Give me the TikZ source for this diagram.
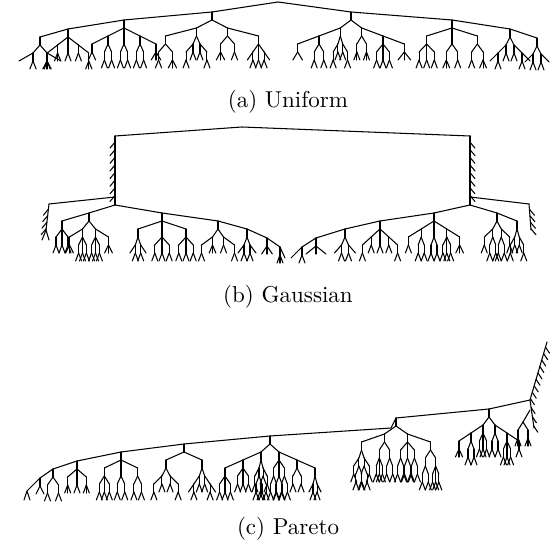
\documentclass[tikz,border=0pt]{standalone}
\usepackage{tikz}
\tikzset{br/.style={line width=0.5pt, line cap=round, line join=round},
  captxt/.style={font=\fontsize{10.95pt}{13pt}\selectfont, inner sep=0pt}}
\newcommand\Sst{8}
\newcommand\Sdy{8}
\newcommand\famB{72}
\newcommand\treefam[3]{%
  \begingroup
  \pgfmathsetmacro\fx{#1}%
  \pgfmathsetmacro\fy{#2}%
  \pgfmathsetmacro\fhw{#3}%
  \pgfmathtruncatemacro\frmax{floor((\famB-\fy)/\Sdy)}%
  \pgfmathtruncatemacro\fcap{min(6, 2*\frmax+1, floor(\fhw/4)+2)}%
  \ifnum\fcap<2 \def\fcap{2}\fi
  \pgfmathrandominteger{\fn}{2}{\fcap}%
  \pgfmathtruncatemacro\fodd{mod(\fn,2)}%
  \pgfmathsetmacro\fd{max(2*\fhw/\fn, 6/(\fn-1))}%
  \foreach \i in {1,...,\fn}{%
    \pgfmathsetmacro\fo{\i-(\fn+1)/2}%
    \pgfmathsetmacro\fr{abs(\fo)+0.5*(1-\fodd)}%
    \pgfmathsetmacro\fcx{\fx+\fo*\fd}%
    \pgfmathsetmacro\fcy{\fy+\Sdy*max(\fr,1)}%
    \ifdim\fr pt>1.01pt
      \pgfmathsetmacro\fpx{\fx+(\fo+(\fo<0 ? 1 : -1))*\fd}%
      \pgfmathsetmacro\fpy{\fy+\Sdy*max(\fr-1,1)}%
    \else
      \let\fpx\fx \let\fpy\fy
    \fi
    \draw[br] (\fpx,\fpy) -- (\fcx,\fcy);
    \pgfmathsetmacro\fchw{0.45*\fd}%
    \pgfmathtruncatemacro\fint{((\famB-\fcy-\Sst)>=\Sdy) && (\fchw>=1.2)}%
    \ifnum\fint=1
      \draw[br] (\fcx,\fcy) -- (\fcx,\fcy+\Sst);
      \treefam{\fcx}{\fcy+\Sst}{\fchw}%
    \fi
  }%
  \endgroup
}
\newcommand\cater[6]{%
  \draw[br] (#1,#2) -- (#3,#4);
  \foreach \tk in {1,...,#5}{%
    \pgfmathsetmacro\tx{#1+(#3-#1)*(\tk-0.2)/#5}%
    \pgfmathsetmacro\ty{#2+(#4-#2)*(\tk-0.2)/#5}%
    \draw[br] (\tx,\ty) -- ++(#6,6);
  }%
}
\begin{document}
\begin{tikzpicture}[x=0.476pt,y=-0.476pt]
\pgfmathsetseed{4242}
\useasboundingbox (0,0) rectangle (557,546);
% ---------------- (a) Uniform
\renewcommand\famB{74}
\draw[br] (40,37) -- (68,29) -- (124,20) -- (212,12) -- (278,2) -- (351,12) -- (452,20) -- (510,29) -- (537,38);
\foreach \x/\y/\w in {212/12/62, 124/20/40, 68/29/26, 40/37/28, 351/12/64, 452/20/38, 510/29/24, 537/38/16}{
  \draw[br] (\x,\y) -- (\x,\y+8);
  \treefam{\x}{\y+8}{\w}
}
\node[captxt] (capa) at (288,102) {(a) Uniform};
% ---------------- (b) Gaussian
\renewcommand\famB{263}
\draw[br] (115,136) -- (242,127) -- (470,136);
\cater{115}{136}{115}{197}{8}{-5}
\cater{470}{136}{470}{197}{8}{5}
\draw[br] (115,197) -- (115,205);
\draw[br] (470,197) -- (470,205);
\draw[br] (115,197) -- (49,204);
\cater{49}{204}{46}{230}{4}{-5}
\draw[br] (46,230) -- (42,240) (46,230) -- (49,240);
\draw[br] (470,197) -- (529,204);
\cater{529}{204}{531}{230}{4}{5}
\draw[br] (62,221) -- (89,213) -- (115,205) -- (162,213) -- (218,221) -- (247,229) -- (267,238) -- (280,247) -- (285,258);
\draw[br] (291,258) -- (302,247) -- (316,238) -- (345,229) -- (380,221) -- (434,213) -- (470,205) -- (497,213) -- (517,221);
\foreach \x/\y/\w in {89/213/26, 62/221/9, 162/213/36, 218/221/22, 247/229/12, 267/238/8, 280/247/4,
  434/213/32, 380/221/22, 345/229/14, 316/238/15, 302/247/5, 497/213/17, 517/221/9}{
  \draw[br] (\x,\y) -- (\x,\y+8);
  \treefam{\x}{\y+8}{\w}
}
\node[captxt] (capb) at (288,297) {(b) Gaussian};
% ---------------- (c) Pareto
\cater{547}{342}{530}{400}{9}{4}
\cater{530}{400}{534}{428}{3}{4}
\draw[br] (530,410) -- (523,422);
\renewcommand\famB{452}
\treefam{523}{422}{10}
\draw[br] (530,400) -- (489,409) -- (396,418) -- (391,428) -- (270,436) -- (184,444) -- (121,452) -- (77,461) -- (53,469) -- (40,478) -- (27,491);
\draw[br] (27,491) -- (24,500) (27,491) -- (30,500);
\foreach \x/\y/\w/\b in {489/409/36/472, 396/418/46/490, 270/436/54/502, 184/444/36/502, 121/452/25/502, 77/461/14/502, 53/469/11/502, 40/478/8/502}{
  \renewcommand\famB{\b}
  \draw[br] (\x,\y) -- (\x,\y+8);
  \treefam{\x}{\y+8}{\w}
}
\node[captxt] (capc) at (288,529) {(c) Pareto};
\end{tikzpicture}
\end{document}
